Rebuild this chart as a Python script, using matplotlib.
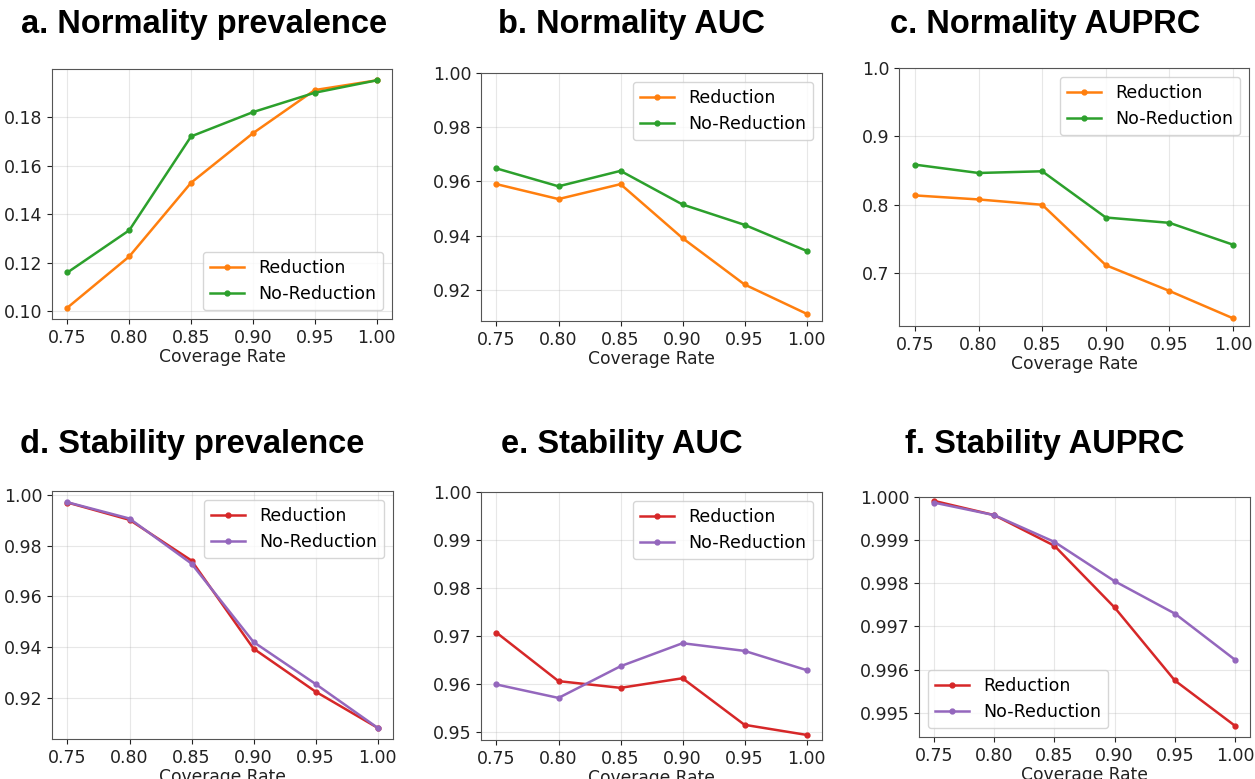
"""
Painel 2x3: prevalência, AUC e AUPRC por taxa de cobertura (Normality / Stability).
"""
import matplotlib
matplotlib.use("Agg")
import matplotlib.pyplot as plt

coverage = [0.75, 0.80, 0.85, 0.90, 0.95, 1.00]
xticks_labels = ["0.75", "0.80", "0.85", "0.90", "0.95", "1.00"]

# Normality
norm_prev_red = [0.1015, 0.1226, 0.1530, 0.1734, 0.1912, 0.1952]
norm_prev_nored = [0.1160, 0.1334, 0.1721, 0.1821, 0.1901, 0.1952]
norm_auc_red = [0.9590, 0.9535, 0.9590, 0.9391, 0.9220, 0.9112]
norm_auc_nored = [0.9648, 0.9582, 0.9639, 0.9515, 0.9440, 0.9344]
norm_auprc_red = [0.8137, 0.8078, 0.8000, 0.7117, 0.6740, 0.6340]
norm_auprc_nored = [0.8587, 0.8465, 0.8490, 0.7814, 0.7736, 0.7416]

# Stability
stab_prev_red = [0.9969, 0.9901, 0.9741, 0.9395, 0.9226, 0.9084]
stab_prev_nored = [0.9970, 0.9906, 0.9729, 0.9421, 0.9256, 0.9084]
stab_auc_red = [0.9707, 0.9606, 0.9592, 0.9612, 0.9515, 0.9494]
stab_auc_nored = [0.9599, 0.9571, 0.9637, 0.9685, 0.9669, 0.9629]
stab_auprc_red = [0.99991, 0.99958, 0.99887, 0.99744, 0.99575, 0.99470]
stab_auprc_nored = [0.99987, 0.99958, 0.99896, 0.99805, 0.99730, 0.99623]

W, H = 1255, 779
fig = plt.figure(figsize=(W / 100, H / 100), dpi=100)


def eixo(x0, y0, x1, y1):
    # converte caixa em pixels (topo-esquerda) para coordenadas da figura
    return fig.add_axes([x0 / W, 1 - y1 / H, (x1 - x0) / W, (y1 - y0) / H])


paineis = [
    # (caixa, titulo, centro_titulo, red, nored, cores, legenda, yticks, fmt, ytop)
    ((52, 69, 392, 319), "a. Normality prevalence", (204, 25),
     norm_prev_red, norm_prev_nored, ("tab:orange", "tab:green"), "lower right",
     [0.10, 0.12, 0.14, 0.16, 0.18], "{:.2f}", None),
    ((481, 73, 822, 321), "b. Normality AUC", (631, 25),
     norm_auc_red, norm_auc_nored, ("tab:orange", "tab:green"), "upper right",
     [0.92, 0.94, 0.96, 0.98, 1.00], "{:.2f}", 1.0),
    ((899, 68, 1249, 326), "c. Normality AUPRC", (1045, 25),
     norm_auprc_red, norm_auprc_nored, ("tab:orange", "tab:green"), "upper right",
     [0.7, 0.8, 0.9, 1.0], "{:.1f}", 1.0),
    ((52, 491, 393, 739), "d. Stability prevalence", (192, 445),
     stab_prev_red, stab_prev_nored, ("tab:red", "tab:purple"), "upper right",
     [0.92, 0.94, 0.96, 0.98, 1.00], "{:.2f}", None),
    ((481, 492, 822, 740), "e. Stability AUC", (622, 445),
     stab_auc_red, stab_auc_nored, ("tab:red", "tab:purple"), "upper right",
     [0.95, 0.96, 0.97, 0.98, 0.99, 1.00], "{:.2f}", 1.0),
    ((919, 497, 1250, 737), "f. Stability AUPRC", (1045, 445),
     stab_auprc_red, stab_auprc_nored, ("tab:red", "tab:purple"), "lower left",
     [0.995, 0.996, 0.997, 0.998, 0.999, 1.000], "{:.3f}", 1.0),
]

for caixa, titulo, centro, red, nored, cores, loc, yticks, fmt, ytop in paineis:
    ax = eixo(*caixa)
    ax.plot(coverage, red, color=cores[0], marker="o", markersize=3.5,
            linewidth=1.8, label="Reduction")
    ax.plot(coverage, nored, color=cores[1], marker="o", markersize=3.5,
            linewidth=1.8, label="No-Reduction")
    if ytop is not None:
        ax.set_ylim(top=ytop)
    ax.set_xticks(coverage)
    ax.set_xticklabels(xticks_labels)
    ax.set_yticks(yticks)
    ax.set_yticklabels([fmt.format(v) for v in yticks])
    ax.tick_params(labelsize=12.5, colors="#222222")
    ax.grid(True, alpha=0.3)
    for s in ax.spines.values():
        s.set_color("#555555")
    ax.set_xlabel("Coverage Rate", fontsize=12.3, labelpad=1, color="#222222")
    ax.legend(loc=loc, fontsize=12.5)
    fig.text(centro[0] / W, 1 - centro[1] / H, titulo, ha="center", va="center",
             fontsize=23.5, fontweight="bold", family="Liberation Sans")

fig.savefig("out.png", dpi=100)
